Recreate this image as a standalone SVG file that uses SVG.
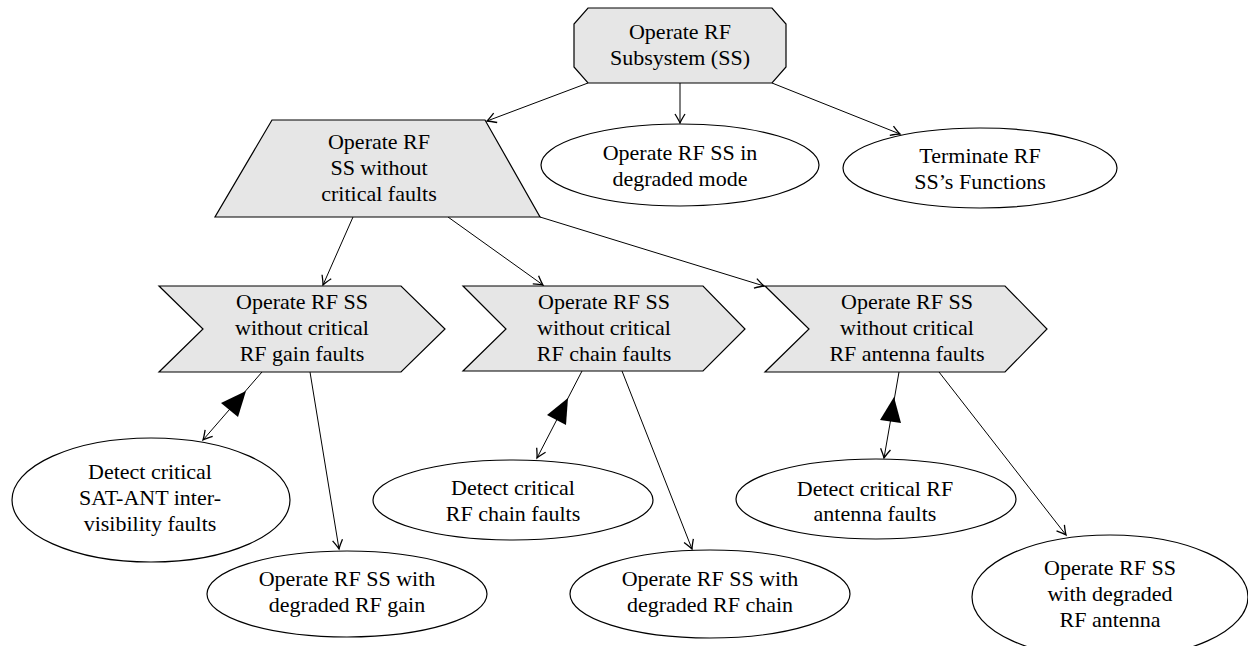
<svg xmlns="http://www.w3.org/2000/svg" width="1248" height="646" viewBox="0 0 1248 646">
<defs>
<style>
.n{fill:#e6e6e6;stroke:#000;stroke-width:1.2}
.e{fill:#fff;stroke:#000;stroke-width:1.2}
.t{font-family:"Liberation Serif","Times New Roman",serif;font-size:22px;fill:#000;text-anchor:middle}
.c{fill:none;stroke:#000;stroke-width:1;marker-end:url(#arr)}
.big{fill:#000;stroke:none}
</style>
<marker id="arr" viewBox="-10 -6 12 12" markerWidth="12" markerHeight="12" refX="0" refY="0" orient="auto" markerUnits="userSpaceOnUse">
<path d="M-9,-5 Q-3,-1.3 0,0 Q-3,1.3 -9,5" fill="none" stroke="#000" stroke-width="1.3"/>
</marker>
</defs>
<rect width="1248" height="646" fill="#fff"/>
<g id="connectors">
<path class="c" d="M680,83 L680,123"/>
<path class="c" d="M588,83 L487,121"/>
<path class="c" d="M772,83 L900,134"/>
<path class="c" d="M353,217 L323,285"/>
<path class="c" d="M448,217 L543,285"/>
<path class="c" d="M540,217 L764,286"/>
<path class="c" d="M262,372 L203,440"/>
<polygon class="big" points="246,391 221,403 238,417"/>
<path class="c" d="M310,372 L339,549"/>
<path class="c" d="M582,371 L537,458"/>
<polygon class="big" points="568,398 547,415 566,425"/>
<path class="c" d="M622,371 L692,549"/>
<path class="c" d="M899,372 L884,458"/>
<polygon class="big" points="894,397 880,420 901,423"/>
<path class="c" d="M939,372 L1066,535"/>
</g>
<g id="n-root">
<polygon class="n" points="588,8 772,8 786,24 786,67 772,83 588,83 574,67 574,24"/>
<text class="t" x="680" y="39">Operate RF</text>
<text class="t" x="680" y="65">Subsystem (SS)</text>
</g>
<g id="n-nofaults">
<polygon class="n" points="272,120 485,120 540,217 215,217"/>
<text class="t" x="379" y="149">Operate RF</text>
<text class="t" x="379" y="175">SS without</text>
<text class="t" x="379" y="201">critical faults</text>
</g>
<g id="n-degraded">
<ellipse class="e" cx="680" cy="165" rx="139" ry="41"/>
<text class="t" x="680" y="160">Operate RF SS in</text>
<text class="t" x="680" y="186">degraded mode</text>
</g>
<g id="n-terminate">
<ellipse class="e" cx="980" cy="168" rx="137" ry="40"/>
<text class="t" x="980" y="163">Terminate RF</text>
<text class="t" x="980" y="189">SS’s Functions</text>
</g>
<g id="n-gain">
<polygon class="n" points="159,286 401,286 445,329 401,372 159,372 203,329"/>
<text class="t" x="302" y="309">Operate RF SS</text>
<text class="t" x="302" y="335">without critical</text>
<text class="t" x="302" y="361">RF gain faults</text>
</g>
<g id="n-chain">
<polygon class="n" points="463,286 703,286 745,329 703,371 463,371 506,329"/>
<text class="t" x="604" y="309">Operate RF SS</text>
<text class="t" x="604" y="335">without critical</text>
<text class="t" x="604" y="361">RF chain faults</text>
</g>
<g id="n-antenna">
<polygon class="n" points="765,286 1005,286 1047,329 1005,372 765,372 809,329"/>
<text class="t" x="907" y="309">Operate RF SS</text>
<text class="t" x="907" y="335">without critical</text>
<text class="t" x="907" y="361">RF antenna faults</text>
</g>
<g id="n-detect-satant">
<ellipse class="e" cx="151" cy="500" rx="139" ry="62"/>
<text class="t" x="150" y="479">Detect critical</text>
<text class="t" x="150" y="505">SAT-ANT inter-</text>
<text class="t" x="150" y="531">visibility faults</text>
</g>
<g id="n-degraded-gain">
<ellipse class="e" cx="347" cy="594" rx="140" ry="43"/>
<text class="t" x="347" y="586">Operate RF SS with</text>
<text class="t" x="347" y="612">degraded RF gain</text>
</g>
<g id="n-detect-chain">
<ellipse class="e" cx="513" cy="500" rx="140" ry="40"/>
<text class="t" x="513" y="495">Detect critical</text>
<text class="t" x="513" y="521">RF chain faults</text>
</g>
<g id="n-degraded-chain">
<ellipse class="e" cx="710" cy="594" rx="140" ry="44"/>
<text class="t" x="710" y="586">Operate RF SS with</text>
<text class="t" x="710" y="612">degraded RF chain</text>
</g>
<g id="n-detect-antenna">
<ellipse class="e" cx="876" cy="499" rx="140" ry="40"/>
<text class="t" x="875" y="496">Detect critical RF</text>
<text class="t" x="875" y="521">antenna faults</text>
</g>
<g id="n-degraded-antenna">
<ellipse class="e" cx="1110" cy="597" rx="138" ry="62"/>
<text class="t" x="1110" y="575">Operate RF SS</text>
<text class="t" x="1110" y="601">with degraded</text>
<text class="t" x="1110" y="627">RF antenna</text>
</g>
</svg>
